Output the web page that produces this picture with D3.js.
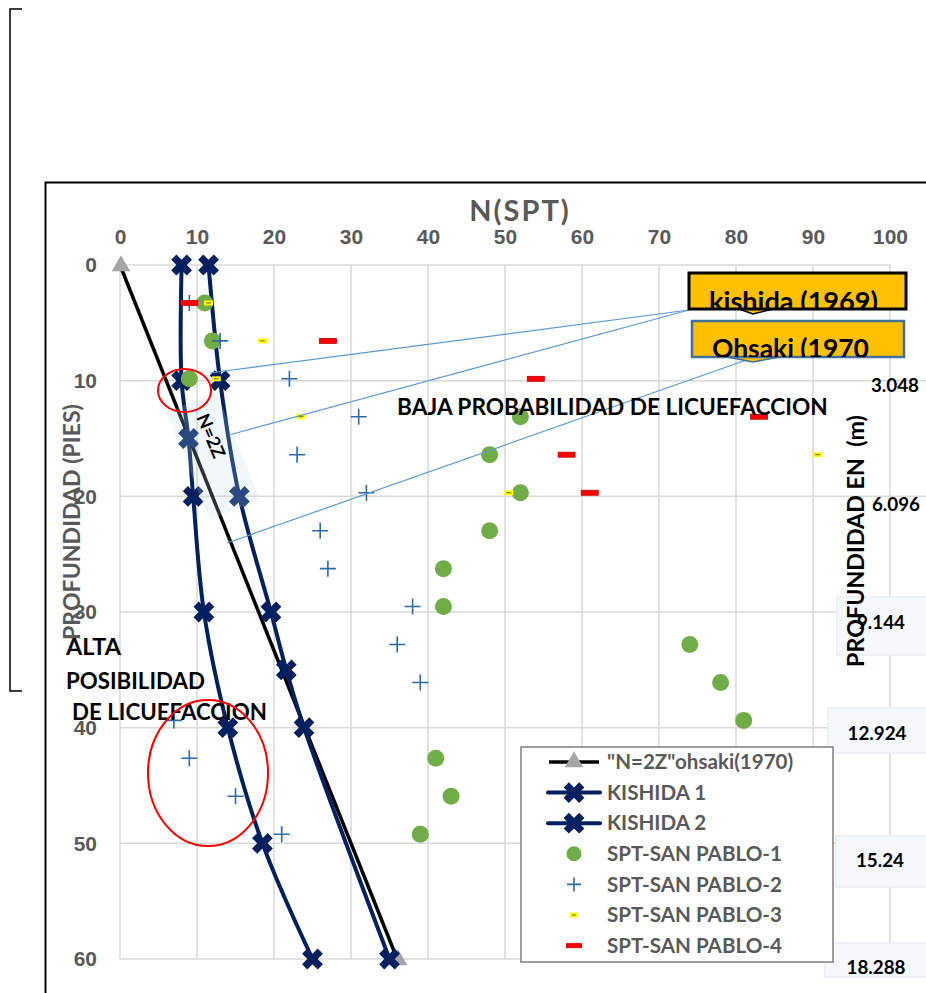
<!DOCTYPE html>
<html>
<head>
<meta charset="utf-8">
<script src="https://cdn.jsdelivr.net/npm/d3@7"></script>
<style>
  body { margin: 0; background: #fff; }
  svg { display: block; font-family: Lato, "Open Sans", sans-serif; font-weight: bold; }
</style>
</head>
<body>
<script>
// depths in feet, N(SPT) blow counts
const xTicks = [0, 10, 20, 30, 40, 50, 60, 70, 80, 90, 100];
const yTicks = [0, 10, 20, 30, 40, 50, 60];

const ohsakiDepth = [0, 60];
const ohsakiN = [0, 36];

const kishida1Depth = [0, 10, 15, 20, 30, 40, 50, 60];
const kishida1N = [8, 8, 8.9, 9.5, 10.9, 14, 18.5, 25];

const kishida2Depth = [0, 10, 20, 30, 35, 40, 60];
const kishida2N = [11.5, 13, 15.5, 19.6, 21.6, 23.9, 35];

const sptDepth = [3.28, 6.56, 9.84, 13.12, 16.4, 19.69, 22.97, 26.25, 29.53, 32.81, 36.09, 39.37, 42.65, 45.93, 49.21];
const spt1N = [11, 12, 9, 52, 48, 52, 48, 42, 42, 74, 78, 81, 41, 43, 39];
const spt2N = [9, 13, 22, 31, 23, 32, 26, 27, 38, 36, 39, 7, 9, 15, 21];
const spt3N = [11.5, 18.5, 12.5, 23.5, 90.6, 50.5];
const spt4N = [9, 27, 54, 83, 58, 61];

const rightLabels = ["3.048", "6.096", "9.144", "12.924", "15.24", "18.288"];
const legendLabels = ["\"N=2Z\"ohsaki(1970)", "KISHIDA 1", "KISHIDA 2", "SPT-SAN PABLO-1", "SPT-SAN PABLO-2", "SPT-SAN PABLO-3", "SPT-SAN PABLO-4"];

const W = 926, H = 993;
const gray = "#595959", navy = "#002060", green = "#70AD47", plusBlue = "#2E6AA3";

const svg = d3.select("body").append("svg").attr("width", W).attr("height", H);

// scale a text's font so that its natural width is w
function fit(sel, w) {
  sel.each(function() {
    const t = d3.select(this), s = +t.attr("font-size");
    t.attr("font-size", s * w / this.getComputedTextLength());
  });
  return sel;
}

const x = d3.scaleLinear([0, 100], [120, 890]);
const y = d3.scaleLinear([0, 60], [265, 959]);

// outer frames
svg.append("path").attr("d", "M22,9H10V691H22").attr("fill", "none").attr("stroke", "#000").attr("stroke-width", 1.5);
svg.append("path").attr("d", `M45.5,${H}V182.5H${W}`).attr("fill", "none").attr("stroke", "#000").attr("stroke-width", 2);

// grid
const grid = svg.append("g").attr("stroke", "#D9D9D9").attr("stroke-width", 1.5);
grid.selectAll("line.v").data(xTicks).join("line")
    .attr("x1", d => x(d)).attr("x2", d => x(d)).attr("y1", y(0)).attr("y2", y(60));
grid.selectAll("line.h").data(yTicks).join("line")
    .attr("x1", x(0)).attr("x2", d => d === 0 ? x(100) : W)
    .attr("y1", d => y(d)).attr("y2", d => y(d));

// axes labels
const xa = svg.append("g").attr("transform", "translate(0,237)")
    .call(d3.axisTop(x).tickValues(xTicks).tickSize(0).tickPadding(0))
    .call(g => g.select(".domain").remove());
xa.selectAll("text").attr("fill", gray).attr("font-size", 18).attr("font-family", null).attr("dy", "0.35em");
const ya = svg.append("g").attr("transform", "translate(97,0)")
    .call(d3.axisLeft(y).tickValues(yTicks).tickSize(0).tickPadding(0))
    .call(g => g.select(".domain").remove());
ya.selectAll("text").attr("fill", gray).attr("font-size", 18).attr("font-family", null);
const hundred = xa.selectAll("text").filter(d => d === 100).node();
const tickSize = 18 * 35 / hundred.getComputedTextLength();
xa.selectAll("text").attr("font-size", tickSize);
ya.selectAll("text").attr("font-size", tickSize);

fit(svg.append("text").attr("x", 520).attr("y", 221).attr("text-anchor", "middle")
    .attr("fill", gray).attr("font-size", 24).attr("letter-spacing", 2).text("N(SPT)"), 104);
fit(svg.append("text").attr("transform", "translate(80,522) rotate(-90)").attr("text-anchor", "middle")
    .attr("fill", gray).attr("font-size", 21).text("PROFUNDIDAD (PIES)"), 236);

// series lines
const line = d3.line().x(d => x(d[1])).y(d => y(d[0]));
const smooth = d3.line().x(d => x(d[1])).y(d => y(d[0])).curve(d3.curveCatmullRom);
const ohsaki = d3.zip(ohsakiDepth, ohsakiN);
const k1 = d3.zip(kishida1Depth, kishida1N);
const k2 = d3.zip(kishida2Depth, kishida2N);

svg.append("path").attr("d", line(ohsaki)).attr("fill", "none").attr("stroke", "#000").attr("stroke-width", 3.5);
[k1, k2].forEach(s => {
  svg.append("path").attr("d", smooth(s)).attr("fill", "none").attr("stroke", navy).attr("stroke-width", 4);
});

const xMark = d3.symbol(d3.symbolCross, 270)();
const tri = d3.symbol(d3.symbolTriangle, 150)();
svg.append("g").selectAll("path").data(ohsaki).join("path")
    .attr("d", tri).attr("fill", "#A5A5A5")
    .attr("transform", d => `translate(${x(d[1]) + 1},${y(d[0]) + 1})`);
svg.append("g").selectAll("path").data(k1.concat(k2)).join("path")
    .attr("d", xMark).attr("fill", navy)
    .attr("transform", d => `translate(${x(d[1])},${y(d[0])}) rotate(45)`);

// SPT points
svg.append("g").selectAll("circle").data(d3.zip(sptDepth, spt1N)).join("circle")
    .attr("cx", d => x(d[1])).attr("cy", d => y(d[0])).attr("r", 8.5).attr("fill", green);
svg.append("g").selectAll("path").data(d3.zip(sptDepth, spt2N)).join("path")
    .attr("d", "M-8,0H8M0,-8V8").attr("stroke", plusBlue).attr("stroke-width", 1.6)
    .attr("transform", d => `translate(${x(d[1])},${y(d[0])})`);
const p3 = svg.append("g").selectAll("g").data(d3.zip(sptDepth, spt3N)).join("g")
    .attr("transform", d => `translate(${x(d[1])},${y(d[0])})`);
p3.append("rect").attr("x", -4.5).attr("y", -2.5).attr("width", 9).attr("height", 5).attr("fill", "#FFFF00");
p3.append("path").attr("d", "M-2.5,0H2.5").attr("stroke", "#7F6000").attr("stroke-width", 1);
svg.append("g").selectAll("rect").data(d3.zip(sptDepth, spt4N)).join("rect")
    .attr("x", d => x(d[1]) - 8.5).attr("y", d => y(d[0]) - 2.5).attr("width", 17).attr("height", 5)
    .attr("fill", "#FF0000").attr("stroke", "#C00000").attr("stroke-width", 0.8);

// leader lines from callouts
const leaders = svg.append("g").attr("stroke", "#5B9BD5").attr("stroke-width", 1.2);
leaders.append("line").attr("x1", 689).attr("y1", 310).attr("x2", 210).attr("y2", 373);
leaders.append("line").attr("x1", 689).attr("y1", 310).attr("x2", 229).attr("y2", 435);
leaders.append("line").attr("x1", 752).attr("y1", 358).attr("x2", 227).attr("y2", 543);

// N=2Z label box
svg.append("rect").attr("x", -58).attr("y", -27).attr("width", 116).attr("height", 54)
    .attr("transform", "translate(213,456) rotate(68)")
    .attr("fill", "#C5DAF0").attr("opacity", 0.22);
fit(svg.append("text").attr("transform", "translate(211,436) rotate(67)").attr("text-anchor", "middle")
    .attr("dy", "0.35em").attr("font-size", 19).attr("fill", "#000").text("N=2Z"), 46);

// region notes
fit(svg.append("text").attr("x", 397).attr("y", 415).attr("font-size", 20).text("BAJA PROBABILIDAD DE LICUEFACCION"), 431);
fit(svg.append("text").attr("x", 66).attr("y", 655).attr("font-size", 20).text("ALTA"), 55);
fit(svg.append("text").attr("x", 66).attr("y", 689).attr("font-size", 20).text("POSIBILIDAD"), 139);
fit(svg.append("text").attr("x", 72).attr("y", 720).attr("font-size", 20).text("DE LICUEFACCION"), 195);

// red ellipses
svg.append("ellipse").attr("cx", 184.5).attr("cy", 390.5).attr("rx", 26.5).attr("ry", 21.5)
    .attr("fill", "none").attr("stroke", "#FF0000").attr("stroke-width", 2);
svg.append("ellipse").attr("cx", 208).attr("cy", 773).attr("rx", 60).attr("ry", 73)
    .attr("fill", "none").attr("stroke", "#FF0000").attr("stroke-width", 2);

// right depth labels (m)
const rl = [
  {t: rightLabels[0], x: 895, y: 385, box: null},
  {t: rightLabels[1], x: 896, y: 504, box: null},
  {t: rightLabels[2], x: 881, y: 622, box: [837, 597, 95, 58]},
  {t: rightLabels[3], x: 877, y: 733, box: [828, 708, 104, 45]},
  {t: rightLabels[4], x: 880, y: 860, box: [836, 836, 96, 51]},
  {t: rightLabels[5], x: 876, y: 967, box: [825, 943, 107, 34]}
];
rl.forEach(d => {
  if (d.box) svg.append("rect").attr("x", d.box[0]).attr("y", d.box[1]).attr("width", d.box[2]).attr("height", d.box[3])
      .attr("fill", "#F5F8FC").attr("stroke", "#E9EEF5").attr("stroke-width", 1.5);
});
fit(svg.append("text").attr("transform", "translate(864,541) rotate(-90)").attr("text-anchor", "middle")
    .attr("font-size", 22).attr("xml:space", "preserve").text("PROFUNDIDAD EN  (m)"), 252);
const rtexts = rl.map(d => svg.append("text").attr("x", d.x).attr("y", d.y).attr("dy", "0.35em")
    .attr("text-anchor", "middle").attr("font-size", 17).text(d.t));
const rSize = 17 * 59 / rtexts[3].node().getComputedTextLength();
rtexts.forEach(t => t.attr("font-size", rSize));

// legend
const lg = svg.append("g");
lg.append("rect").attr("x", 521).attr("y", 747).attr("width", 312).attr("height", 215)
    .attr("fill", "#fff").attr("stroke", "#7F7F7F").attr("stroke-width", 1.5);
const rows = lg.selectAll("g").data(legendLabels).join("g")
    .attr("transform", (d, i) => `translate(574,${762 + i * 30.6})`);
const ltext = rows.append("text").attr("x", 33).attr("dy", "0.35em").attr("fill", gray).attr("font-size", 17).text(d => d);
const lSize = 17 * 175 / ltext.filter((d, i) => i === 3).node().getComputedTextLength();
ltext.attr("font-size", lSize);
rows.each(function(d, i) {
  const g = d3.select(this);
  if (i === 0) {
    g.append("path").attr("d", "M-25,0H25").attr("stroke", "#000").attr("stroke-width", 3.5);
    g.append("path").attr("d", tri).attr("fill", "#A5A5A5");
  } else if (i < 3) {
    g.append("path").attr("d", "M-26,0H26").attr("stroke", navy).attr("stroke-width", 4).attr("stroke-linecap", "round");
    g.append("path").attr("d", xMark).attr("fill", navy).attr("transform", "rotate(45)");
  } else if (i === 3) {
    g.append("circle").attr("r", 7.5).attr("fill", green);
  } else if (i === 4) {
    g.append("path").attr("d", "M-7,0H7M0,-7V7").attr("stroke", plusBlue).attr("stroke-width", 1.6);
  } else if (i === 5) {
    g.append("rect").attr("x", -4).attr("y", -2.5).attr("width", 8).attr("height", 5).attr("fill", "#FFFF00");
    g.append("path").attr("d", "M-2,0H2").attr("stroke", "#7F6000");
  } else {
    g.append("rect").attr("x", -8).attr("y", -2.5).attr("width", 16).attr("height", 5).attr("fill", "#FF0000");
  }
});

// callout boxes
const callouts = [
  {t: "kishida (1969)", x: 689, y: 273, w: 217, h: 36, stroke: "#000", sw: 3, tx: 709, tl: 169, by: 2, tip: [739, 753, 773]},
  {t: "Ohsaki (1970", x: 692, y: 321, w: 212, h: 36, stroke: "#41719C", sw: 2.5, tx: 712, tl: 157, by: 1, tip: [727, 753, 780]}
];
const defs = svg.append("defs");
callouts.forEach((c, i) => {
  defs.append("clipPath").attr("id", "clip" + i).append("rect")
      .attr("x", c.x).attr("y", c.y).attr("width", c.w).attr("height", c.h);
  svg.append("path")
      .attr("d", `M${c.tip[0]},${c.y + c.h}L${c.tip[1]},${c.y + c.h + 5}L${c.tip[2]},${c.y + c.h}Z`)
      .attr("fill", "#FFC000").attr("stroke", c.stroke).attr("stroke-width", 1.5);
  svg.append("rect").attr("x", c.x).attr("y", c.y).attr("width", c.w).attr("height", c.h)
      .attr("fill", "#FFC000").attr("stroke", c.stroke).attr("stroke-width", c.sw);
  fit(svg.append("text").attr("clip-path", `url(#clip${i})`).attr("x", c.tx).attr("y", c.y + c.h + c.by)
      .attr("font-size", 25).text(c.t), c.tl);
});
</script>
</body>
</html>
